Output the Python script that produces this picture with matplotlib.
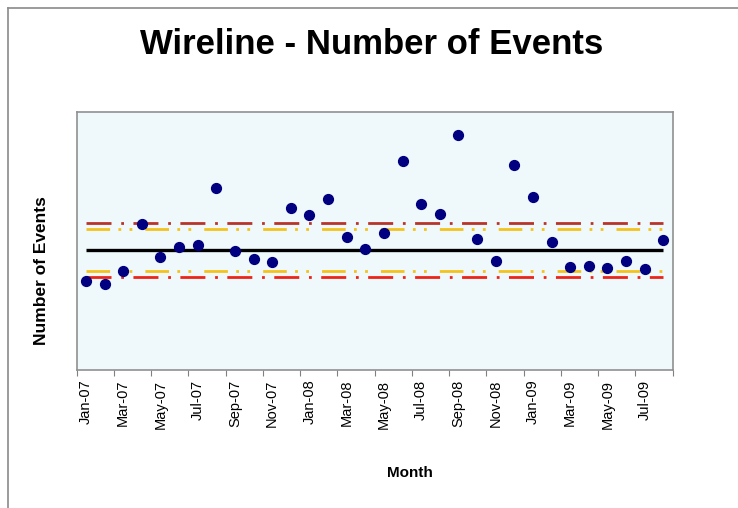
import matplotlib.pyplot as plt
from matplotlib.lines import Line2D

plt.rcParams['font.family'] = ['Liberation Sans', 'DejaVu Sans']

months = ['Jan-07', 'Feb-07', 'Mar-07', 'Apr-07', 'May-07', 'Jun-07', 'Jul-07', 'Aug-07',
          'Sep-07', 'Oct-07', 'Nov-07', 'Dec-07', 'Jan-08', 'Feb-08', 'Mar-08', 'Apr-08',
          'May-08', 'Jun-08', 'Jul-08', 'Aug-08', 'Sep-08', 'Oct-08', 'Nov-08', 'Dec-08',
          'Jan-09', 'Feb-09', 'Mar-09', 'Apr-09', 'May-09', 'Jun-09', 'Jul-09', 'Aug-09']
events = [13.8, 13.4, 15.4, 22.7, 17.5, 19.1, 19.4, 28.2, 18.4, 17.3, 16.7, 25.2,
          24.0, 26.5, 20.7, 18.7, 21.3, 32.4, 25.8, 24.2, 36.5, 20.4, 16.9, 31.8,
          26.9, 19.9, 16.0, 16.1, 15.9, 16.9, 15.7, 20.2]
center = 18.65
inner_limits = [15.4, 21.9]   # yellow
outer_limits = [14.4, 22.8]   # red (lower, upper)
outer_colors = ['#ec2418', '#b8342a']

fig = plt.figure(figsize=(7.38, 5.08), dpi=100)
ax = fig.add_axes([0.1039, 0.2717, 0.8076, 0.5073])
ax.set_facecolor('#eff9fc')

x = list(range(len(months)))
x0, x1 = x[0], x[-1]

ax.hlines(center, x0, x1, color='black', lw=2.4, zorder=2)
for y in inner_limits:
    ax.hlines(y, x0, x1, color='#f3c31c', lw=2.0,
              linestyles=(0, (8.5, 3, 1, 3, 1, 4.7)), zorder=2)
for y, c in zip(outer_limits, outer_colors):
    ax.hlines(y, x0, x1, color=c, lw=2.0,
              linestyles=(0, (9, 3.5, 1, 3.4)), zorder=2)

ax.scatter(x, events, s=50, color='#000080', zorder=3)

ax.set_xlim(-0.5, len(months) - 0.5)
ax.set_ylim(0, 40)
ax.set_yticks([])

# ticks at category boundaries, labels centred on every second month
ax.set_xticks([i - 0.5 for i in range(0, len(months) + 1, 2)])
ax.set_xticklabels([])
ax.tick_params(axis='x', which='major', length=4, color='#808080', direction='out')
ax.set_xticks(x[::2], minor=True)
ax.set_xticklabels(months[::2], minor=True, rotation=90, fontsize=10.5)
ax.tick_params(axis='x', which='minor', length=0, pad=7)

for s in ax.spines.values():
    s.set_color('#909090')
    s.set_linewidth(1.2)

fig.text(410 / 738, 1 - 473 / 508, 'Month', ha='center', va='center',
         fontsize=11, fontweight='bold')
fig.text(42 / 738, 1 - 271 / 508, 'Number of Events', ha='center', va='center',
         rotation=90, fontsize=12.5, fontweight='bold')
fig.text(372 / 738, 1 - 45 / 508, 'Wireline - Number of Events', ha='center', va='center',
         fontsize=25, fontweight='bold')

# screenshot frame
fig.add_artist(Line2D([8 / 738, 8 / 738], [0, 1 - 8 / 508], color='#8a8a8a', lw=1.2))
fig.add_artist(Line2D([8 / 738, 1], [1 - 8 / 508, 1 - 8 / 508], color='#8a8a8a', lw=1.2))

fig.savefig('out.png', dpi=100)
